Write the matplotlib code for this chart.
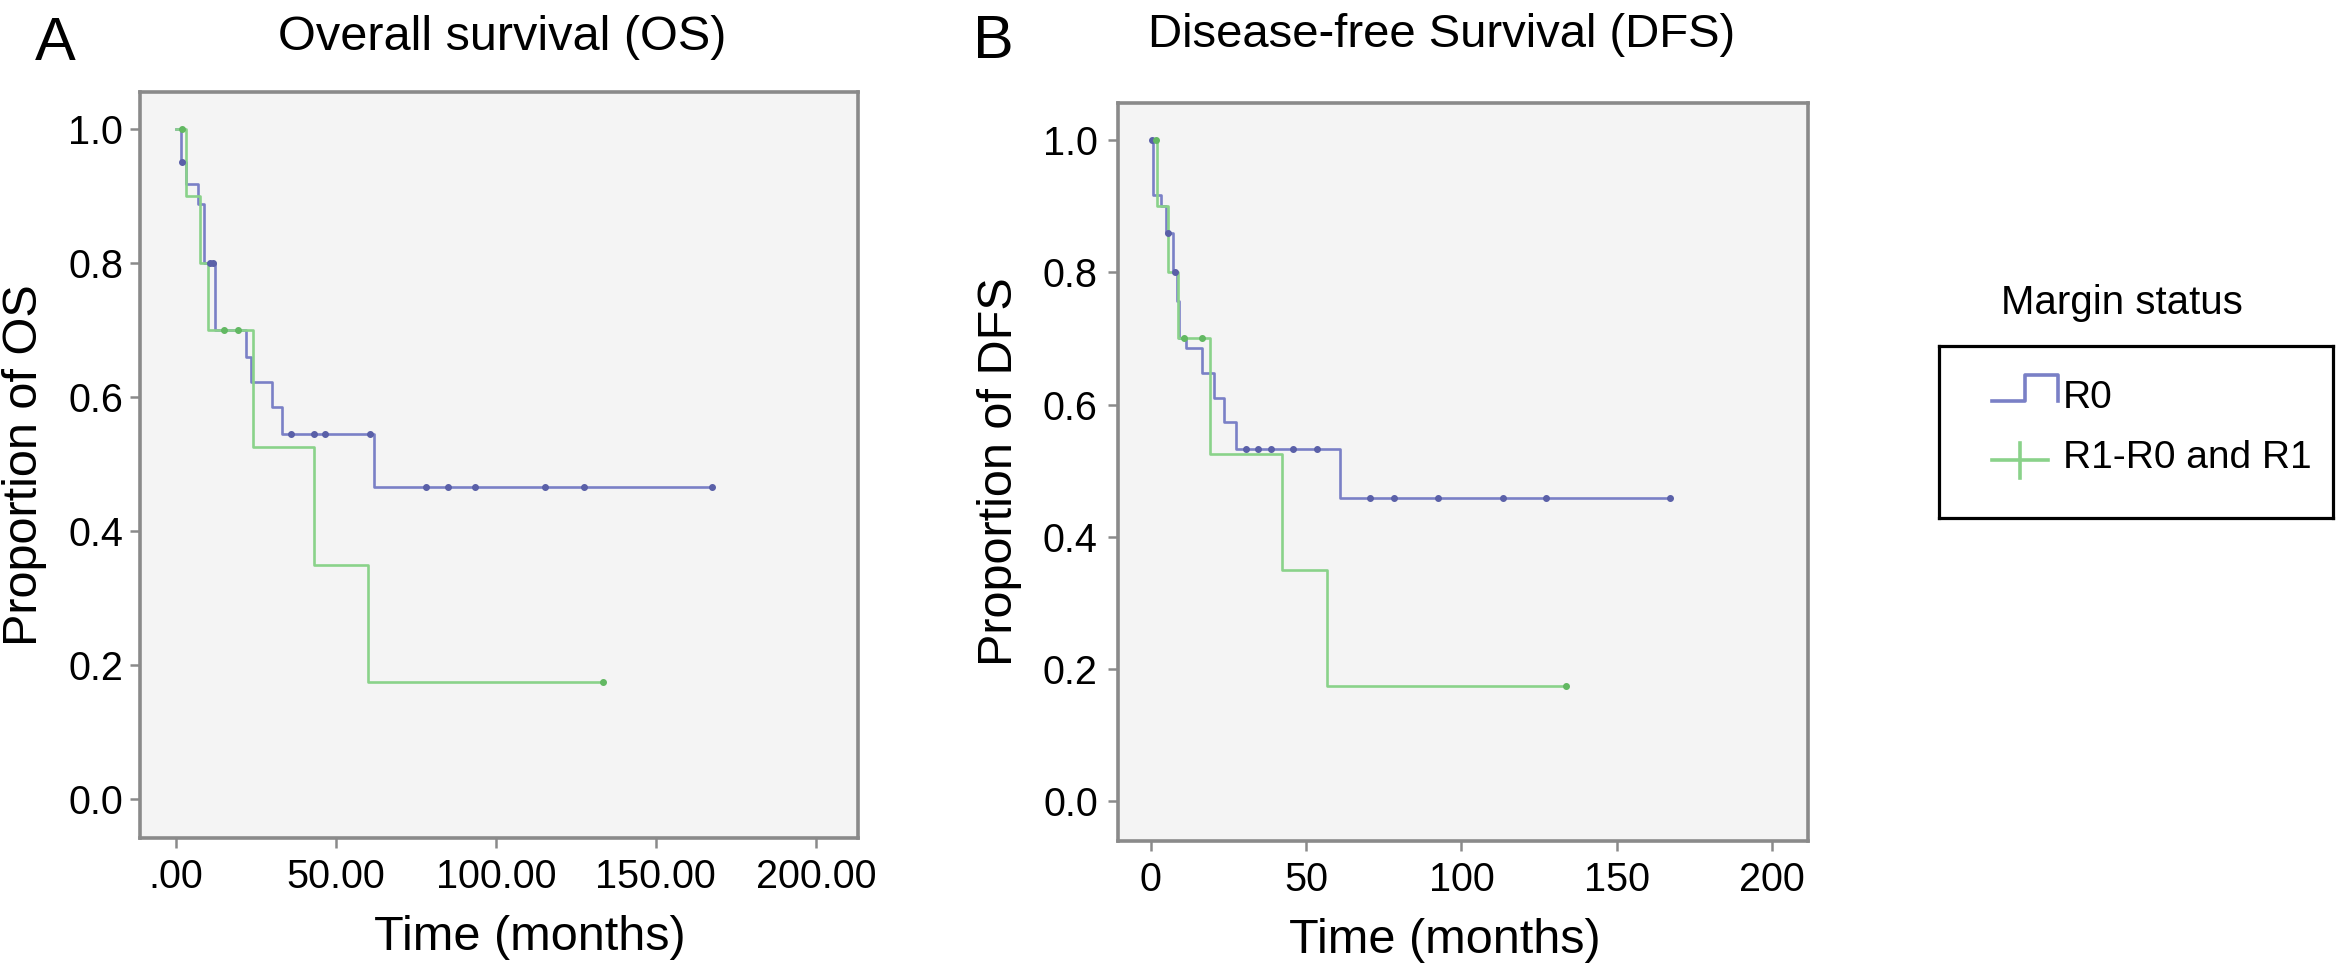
import numpy as np
import matplotlib
matplotlib.use("Agg")
import matplotlib.pyplot as plt
from matplotlib.lines import Line2D

plt.rcParams['font.family'] = ['Liberation Sans', 'DejaVu Sans']

# ---------------- data ----------------
# Overall survival (OS)
os_r0_t = [0, 1.5, 3, 7, 8.7, 12.3, 22, 23.5, 30, 33, 62, 167.5]
os_r0_s = [1.0, 0.95, 0.918, 0.888, 0.80, 0.70, 0.66, 0.622, 0.585, 0.545, 0.465, 0.465]
os_r0_cens = [2, 10.5, 11.5, 36, 43, 46.6, 60.5, 78, 85, 93.4, 115.3, 127.5, 167.5]

os_r1_t = [0, 3, 7.5, 10, 24, 43, 60, 133.4]
os_r1_s = [1.0, 0.9, 0.8, 0.7, 0.525, 0.35, 0.175, 0.175]
os_r1_cens = [2, 15, 19.5, 133.4]

# Disease-free survival (DFS)
dfs_r0_t = [0, 0.8, 3.4, 5, 7.2, 8.5, 9.1, 11.2, 16.6, 20.4, 23.6, 27.4, 61, 167.1]
dfs_r0_s = [1.0, 0.917, 0.90, 0.86, 0.80, 0.757, 0.70, 0.685, 0.647, 0.61, 0.573, 0.533, 0.458, 0.458]
dfs_r0_cens = [0.5, 5.5, 7.9, 30.5, 34.5, 38.6, 45.7, 53.5, 70.6, 78.4, 92.3, 113.3, 127.2, 167.1]

dfs_r1_t = [0, 2, 5.5, 8.8, 19, 42.2, 56.6, 133.7]
dfs_r1_s = [1.0, 0.9, 0.8, 0.7, 0.525, 0.35, 0.175, 0.175]
dfs_r1_cens = [1.5, 10.5, 16.5, 133.7]

yticks = [0.0, 0.2, 0.4, 0.6, 0.8, 1.0]
ytick_labels = ["0.0", "0.2", "0.4", "0.6", "0.8", "1.0"]
xticks = [0, 50, 100, 150, 200]
os_xtick_labels = [".00", "50.00", "100.00", "150.00", "200.00"]
dfs_xtick_labels = ["0", "50", "100", "150", "200"]
groups = ["R0", "R1-R0 and R1"]

# ---------------- style ----------------
W, H = 2336, 967
BLUE = '#7a80c6'
BLUE_M = '#5a60a8'
GREEN = '#8ad28a'
GREEN_M = '#62b862'
SPINE = '#8a8a8a'
FACE = '#f4f4f4'

fig = plt.figure(figsize=(W / 100, H / 100), dpi=100)


def rect(l, r, t, b):
    return [l / W, 1 - b / H, (r - l) / W, (b - t) / H]


def fx(x):
    return x / W


def fy(y):
    return 1 - y / H


def step_value(ts, ss, t):
    idx = np.searchsorted(np.asarray(ts), t, side='right') - 1
    return np.asarray(ss)[idx]


def draw_panel(ax, curves, xlabels, xlim, ylim, ypad):
    ax.set_facecolor(FACE)
    for (ts, ss, cens, col, mcol) in curves:
        ax.step(ts, ss, where='post', color=col, lw=1.9, zorder=3)
        cy = [step_value(ts, ss, c) for c in cens]
        ax.plot(cens, cy, ls='none', marker='o', ms=4.0, color=mcol, zorder=4)
    ax.set_xlim(*xlim)
    ax.set_ylim(*ylim)
    ax.set_xticks(xticks)
    ax.set_xticklabels(xlabels)
    ax.set_yticks(yticks)
    ax.set_yticklabels(ytick_labels)
    for sp in ax.spines.values():
        sp.set_color(SPINE)
        sp.set_linewidth(2.6)
    ax.tick_params(axis='both', direction='out', length=7.5, width=1.8,
                   color=SPINE, labelsize=28.5, labelcolor='black')
    ax.tick_params(axis='x', pad=7)
    ax.tick_params(axis='y', pad=ypad)


axA = fig.add_axes(rect(140, 858, 92, 838))
draw_panel(axA,
           [(os_r0_t, os_r0_s, os_r0_cens, BLUE, BLUE_M),
            (os_r1_t, os_r1_s, os_r1_cens, GREEN, GREEN_M)],
           os_xtick_labels, (-11.25, 213.2), (-0.058, 1.055), 4.5)

axB = fig.add_axes(rect(1118, 1808, 103, 841))
draw_panel(axB,
           [(dfs_r0_t, dfs_r0_s, dfs_r0_cens, BLUE, BLUE_M),
            (dfs_r1_t, dfs_r1_s, dfs_r1_cens, GREEN, GREEN_M)],
           dfs_xtick_labels, (-10.6, 211.6), (-0.06, 1.056), 7)

# panel letters and titles
fig.text(fx(35), fy(60), "A", fontsize=44, ha='left', va='baseline')
fig.text(fx(502), fy(50), "Overall survival (OS)", fontsize=35, ha='center', va='baseline')
fig.text(fx(973), fy(58), "B", fontsize=44, ha='left', va='baseline')
fig.text(fx(1442), fy(47), "Disease-free Survival (DFS)", fontsize=34, ha='center', va='baseline')

# axis labels
fig.text(fx(530), fy(950), "Time (months)", fontsize=35, ha='center', va='baseline')
fig.text(fx(1445), fy(953), "Time (months)", fontsize=35, ha='center', va='baseline')
fig.text(fx(25), fy(465), "Proportion of OS", fontsize=35, rotation=90, ha='center', va='center')
fig.text(fx(1000), fy(472), "Proportion of DFS", fontsize=35, rotation=90, ha='center', va='center')

# legend
fig.text(fx(2122), fy(303), "Margin status", fontsize=29, ha='center', va='center')
lg_l, lg_r, lg_t, lg_b = 1939, 2333, 346, 518
lax = fig.add_axes(rect(lg_l, lg_r, lg_t, lg_b))
lax.set_xlim(0, lg_r - lg_l)
lax.set_ylim(lg_b - lg_t, 0)
lax.set_xticks([])
lax.set_yticks([])
lax.set_facecolor('white')
for sp in lax.spines.values():
    sp.set_color('black')
    sp.set_linewidth(2.3)
# R0 handle: step glyph
lax.add_line(Line2D([53, 86, 86, 119, 119], [55, 55, 29, 29, 55], color=BLUE, lw=2.6))
lax.text(124, 52, groups[0], fontsize=28, ha='left', va='center')
# R1 handle: plus glyph
lax.add_line(Line2D([53, 109], [114, 114], color=GREEN, lw=2.6))
lax.add_line(Line2D([81, 81], [97, 132], color=GREEN, lw=2.6))
lax.text(124, 112, groups[1], fontsize=28, ha='left', va='center')

fig.savefig("out.png", dpi=100, facecolor='white')
